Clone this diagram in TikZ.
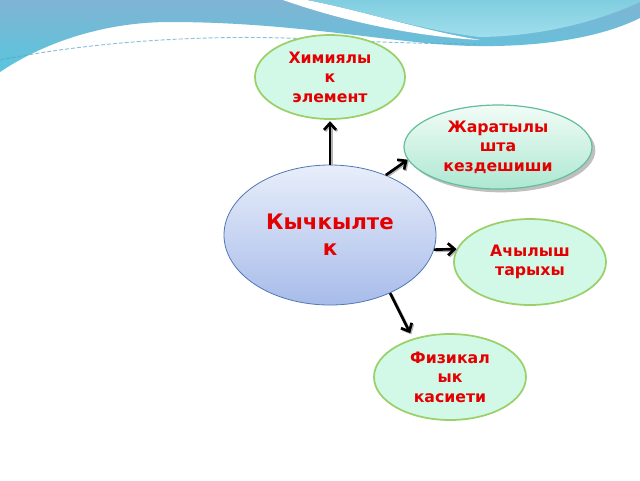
\documentclass[tikz,border=0pt]{standalone}
\usepackage{fontspec}
\setmainfont{DejaVu Sans}
\usetikzlibrary{shapes.geometric,arrows.meta,shadows}
\definecolor{txtred}{RGB}{228,0,0}
\definecolor{bandtop}{RGB}{128,180,212}
\definecolor{bandbot}{RGB}{88,198,220}
\definecolor{lighttop}{RGB}{128,206,224}
\definecolor{lightbot}{RGB}{160,222,236}
\definecolor{dashblue}{RGB}{90,165,205}
\definecolor{mint}{RGB}{210,248,232}
\definecolor{greenborder}{RGB}{155,208,105}
\definecolor{nattop}{RGB}{242,252,247}
\definecolor{natbot}{RGB}{172,232,210}
\definecolor{natborder}{RGB}{100,190,158}
\definecolor{oxtop}{RGB}{232,238,250}
\definecolor{oxbot}{RGB}{168,188,234}
\definecolor{oxborder}{RGB}{80,120,180}
\begin{document}
\begin{tikzpicture}[x=0.75pt,y=-0.75pt,
  smalltext/.style={font=\bfseries\fontsize{11.8}{14.6}\selectfont, text=txtred, align=center},
  bigtext/.style={font=\bfseries\fontsize{16}{19.5}\selectfont, text=txtred, align=center},
  greenell/.style={ellipse, draw=greenborder, line width=1.3pt, fill=mint, inner sep=0pt, smalltext},
  natell/.style={ellipse, draw=natborder, line width=0.9pt, top color=nattop, bottom color=natbot, inner sep=0pt, smalltext,
     drop shadow={shadow xshift=2.5pt, shadow yshift=-2.5pt, opacity=0.25, fill=black}},
  oxell/.style={ellipse, draw=oxborder, line width=0.6pt, top color=oxtop, bottom color=oxbot, inner sep=0pt, bigtext},
  conn/.style={line width=2pt, -{Straight Barb[length=5pt,width=9pt]},
     preaction={draw=black!30, line width=2pt, transform canvas={shift={(0.9pt,-0.9pt)}}}}
]
\useasboundingbox (0,0) rectangle (640,480);
\fill[white] (0,0) rectangle (640,480);
% background waves
\shade[top color=bandtop, bottom color=bandbot]
  (0,0) -- (640,0) -- (640,18) .. controls (600,38) and (540,47) .. (475,46)
  .. controls (400,45) and (300,22) .. (170,22)
  .. controls (100,22) and (40,45) .. (0,72) -- cycle;
\fill[white] (283,0) .. controls (340,20) and (410,36) .. (480,40)
  .. controls (420,30) and (360,10) .. (307,0) -- cycle;
\shade[top color=lighttop, bottom color=lightbot]
  (307,0) .. controls (360,10) and (420,30) .. (480,37)
  .. controls (550,36) and (605,18) .. (640,2) -- (640,0) -- cycle;
\draw[dashblue, line width=0.7pt, dash pattern=on 3pt off 1.5pt, opacity=0.7]
  (0,60) .. controls (80,44) and (200,32) .. (330,40) .. controls (380,42) and (430,44) .. (480,44);
% nodes
\node[greenell, minimum width=112.5pt, minimum height=63pt] (chem) at (330,77) {Химиялы\\к\\элемент};
\node[natell, minimum width=141pt, minimum height=63pt] (nat) at (498,147) {Жаратылы\\шта\\кездешиши};
\node[oxell, minimum width=159pt, minimum height=105pt] (ox) at (330,235) {Кычкылте\\к};
\node[greenell, minimum width=114pt, minimum height=64.5pt] (hist) at (530,262) {Ачылыш\\тарыхы};
\node[greenell, minimum width=114pt, minimum height=64.5pt] (phys) at (450,377) {Физикал\\ык\\касиети};
% connectors
\draw[conn, shorten >=1pt] (ox.north) -- (chem.south);
\draw[conn] (ox.47) -- (nat.188);
\draw[conn] (ox.-8) -- (hist.170);
\draw[conn, shorten >=4.5pt] (ox.-44) -- (phys.134);
\end{tikzpicture}
\end{document}
